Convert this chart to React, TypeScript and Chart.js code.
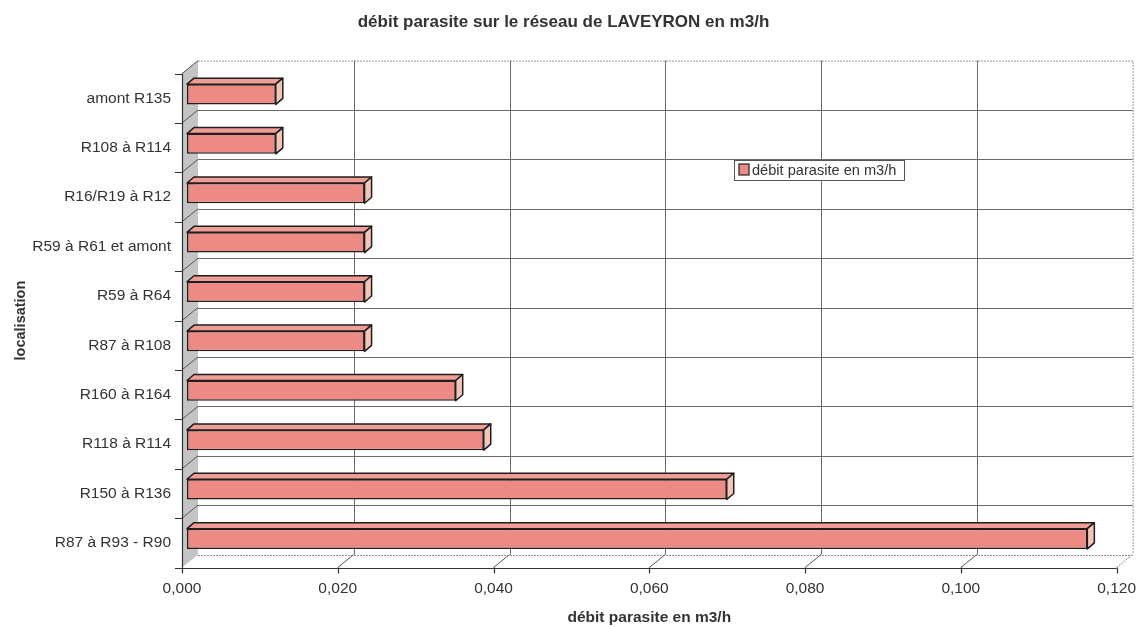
import React, { useEffect, useRef } from "react";
import { Chart, registerables } from "chart.js";

Chart.register(...registerables);

const chartTitle = "débit parasite sur le réseau de LAVEYRON en m3/h";
const seriesLabel = "débit parasite en m3/h";
const xAxisTitle = "débit parasite en m3/h";
const yAxisTitle = "localisation";

const categories = [
  "amont R135",
  "R108 à R114",
  "R16/R19 à R12",
  "R59 à R61 et amont",
  "R59 à R64",
  "R87 à R108",
  "R160 à R164",
  "R118 à R114",
  "R150 à R136",
  "R87 à R93 - R90",
];

const values = [0.0114, 0.0114, 0.0228, 0.0228, 0.0228, 0.0228, 0.0345, 0.0381, 0.0693, 0.1156];

const xMin = 0;
const xMax = 0.12;
const xStep = 0.02;

const FONT = "'Liberation Sans', Arial, sans-serif";
const TEXT = "#333333";

// depth geometry for the 3D look
const BACK_DX = 16;
const BACK_DY = -13;
const BAR_DX = 5;
const BAR_DY = -4;
const FACE_DX = 7;
const FACE_DY = -6;

const threeD = {
  id: "threeD",
  beforeDatasetsDraw(chart: any) {
    const { ctx, chartArea } = chart;
    const { left: L, right: R, top: T, bottom: B } = chartArea;
    const xs = chart.scales.x;
    const n = categories.length;
    const band = (B - T) / n;
    const bounds: number[] = [];
    for (let i = 0; i <= n; i++) bounds.push(T + i * band);
    const ticks: number[] = [];
    for (let v = xMin; v <= xMax + 1e-9; v += xStep) ticks.push(xs.getPixelForValue(v));

    ctx.save();
    // back wall
    ctx.fillStyle = "#ffffff";
    ctx.fillRect(L + BACK_DX, T + BACK_DY, R - L, B - T);
    ctx.strokeStyle = "#9a9a9a";
    ctx.lineWidth = 1;
    ctx.setLineDash([2, 1]);
    ctx.beginPath();
    ctx.moveTo(L + BACK_DX, T + BACK_DY + 0.5);
    ctx.lineTo(R + BACK_DX + 0.5, T + BACK_DY + 0.5);
    ctx.lineTo(R + BACK_DX + 0.5, B + BACK_DY);
    ctx.stroke();
    ctx.setLineDash([]);

    // back wall grid
    ctx.strokeStyle = "#6a6a6a";
    ctx.lineWidth = 1;
    ctx.beginPath();
    for (let i = 1; i < ticks.length - 1; i++) {
      const x = Math.round(ticks[i] + BACK_DX) + 0.5;
      ctx.moveTo(x, T + BACK_DY);
      ctx.lineTo(x, B + BACK_DY);
    }
    for (let i = 1; i < n; i++) {
      const y = Math.round(bounds[i] + BACK_DY) + 0.5;
      ctx.moveTo(L + BACK_DX, y);
      ctx.lineTo(R + BACK_DX, y);
    }
    ctx.stroke();

    // floor back edge (dotted)
    ctx.strokeStyle = "#8a8a8a";
    ctx.setLineDash([2, 1]);
    ctx.beginPath();
    ctx.moveTo(L + BACK_DX, Math.round(B + BACK_DY) + 0.5);
    ctx.lineTo(R + BACK_DX, Math.round(B + BACK_DY) + 0.5);
    ctx.moveTo(R, B);
    ctx.lineTo(R + BACK_DX, B + BACK_DY);
    ctx.stroke();
    ctx.setLineDash([]);

    // left side wall
    ctx.fillStyle = "#c4c4c4";
    ctx.beginPath();
    ctx.moveTo(L, T);
    ctx.lineTo(L + BACK_DX, T + BACK_DY);
    ctx.lineTo(L + BACK_DX, B + BACK_DY);
    ctx.lineTo(L, B);
    ctx.closePath();
    ctx.fill();

    ctx.strokeStyle = "#555555";
    ctx.lineWidth = 1;
    ctx.beginPath();
    for (let i = 0; i < n; i++) {
      ctx.moveTo(L, bounds[i]);
      ctx.lineTo(L + BACK_DX, bounds[i] + BACK_DY);
    }
    for (let i = 1; i < ticks.length - 1; i++) {
      ctx.moveTo(ticks[i], B);
      ctx.lineTo(ticks[i] + BACK_DX, B + BACK_DY);
    }
    ctx.stroke();

    // front axes
    ctx.strokeStyle = "#333333";
    ctx.lineWidth = 1.2;
    ctx.beginPath();
    ctx.moveTo(Math.round(L) + 0.5, T);
    ctx.lineTo(Math.round(L) + 0.5, B);
    ctx.moveTo(L, Math.round(B) + 0.5);
    ctx.lineTo(R, Math.round(B) + 0.5);
    for (let i = 0; i < ticks.length; i++) {
      const x = Math.round(ticks[i]) + 0.5;
      ctx.moveTo(x, B);
      ctx.lineTo(x, B + 6);
    }
    for (let i = 0; i <= n; i++) {
      const y = Math.round(bounds[i]) + 0.5;
      ctx.moveTo(L - 7, y);
      ctx.lineTo(L, y);
    }
    ctx.stroke();
    ctx.restore();

    // shift bars into the middle of the depth
    ctx.save();
    ctx.translate(BAR_DX, BAR_DY);
  },
  afterDatasetsDraw(chart: any) {
    const { ctx } = chart;
    const meta = chart.getDatasetMeta(0);
    meta.data.forEach((bar: any) => {
      const { x, y, base, height } = bar.getProps(["x", "y", "base", "height"], true);
      const top = y - height / 2;
      const bot = y + height / 2;
      ctx.lineWidth = 1.5;
      ctx.strokeStyle = "#1e1e1e";
      ctx.lineJoin = "round";
      ctx.fillStyle = "#f19d97";
      ctx.beginPath();
      ctx.moveTo(base, top);
      ctx.lineTo(base + FACE_DX, top + FACE_DY);
      ctx.lineTo(x + FACE_DX, top + FACE_DY);
      ctx.lineTo(x, top);
      ctx.closePath();
      ctx.fill();
      ctx.stroke();
      ctx.fillStyle = "#f3c4b8";
      ctx.beginPath();
      ctx.moveTo(x, top);
      ctx.lineTo(x + FACE_DX, top + FACE_DY);
      ctx.lineTo(x + FACE_DX, bot + FACE_DY);
      ctx.lineTo(x, bot);
      ctx.closePath();
      ctx.fill();
      ctx.stroke();
    });
    ctx.restore();
  },
  afterDraw(chart: any) {
    const { ctx } = chart;
    ctx.save();
    const bx = 734.5, by = 160.5, bw = 170, bh = 20;
    ctx.fillStyle = "#ffffff";
    ctx.fillRect(bx, by, bw, bh);
    ctx.strokeStyle = "#555555";
    ctx.lineWidth = 1;
    ctx.strokeRect(bx, by, bw, bh);
    ctx.fillStyle = "#ee8a84";
    ctx.fillRect(739, 164, 10, 11);
    ctx.strokeStyle = "#222222";
    ctx.lineWidth = 1.2;
    ctx.strokeRect(739, 164, 10, 11);
    ctx.fillStyle = TEXT;
    ctx.font = `14.6px ${FONT}`;
    ctx.textBaseline = "middle";
    ctx.textAlign = "left";
    ctx.fillText(seriesLabel, 752, 170.5);
    ctx.restore();
  },
};

export default function App() {
  const ref = useRef<HTMLCanvasElement | null>(null);

  useEffect(() => {
    document.body.style.margin = "0";
    document.body.style.background = "#ffffff";
    const canvas = ref.current;
    if (!canvas) return;
    const chart = new Chart(canvas, {
      type: "bar",
      data: {
        labels: categories,
        datasets: [
          {
            label: seriesLabel,
            data: values,
            backgroundColor: "#ee8a84",
            borderColor: "#1e1e1e",
            borderWidth: 1.5,
            borderSkipped: false,
            barPercentage: 0.41,
            categoryPercentage: 1,
            clip: false as any,
          },
        ],
      },
      options: {
        indexAxis: "y",
        animation: false,
        responsive: false,
        maintainAspectRatio: false,
        layout: { padding: { left: 0, right: 21, top: 0, bottom: 0 } },
        plugins: {
          legend: { display: false },
          tooltip: { enabled: false },
          title: {
            display: true,
            text: chartTitle,
            color: TEXT,
            font: { family: FONT, size: 17, weight: "bold" },
            lineHeight: 1.2,
            padding: { top: 12, bottom: 41.2 },
          },
        },
        scales: {
          x: {
            type: "linear",
            min: xMin,
            max: xMax,
            grid: { display: false, drawTicks: false },
            border: { display: false },
            ticks: {
              stepSize: xStep,
              padding: 12,
              color: TEXT,
              font: { family: FONT, size: 15.5 },
              callback: (v: any) => Number(v).toFixed(3).replace(".", ","),
            },
            title: {
              display: true,
              text: xAxisTitle,
              color: TEXT,
              font: { family: FONT, size: 15.5, weight: "bold" },
              padding: { top: 0, bottom: 0 },
            },
            afterFit: (s: any) => {
              s.height = 59.5;
            },
          },
          y: {
            grid: { display: false, drawTicks: false },
            border: { display: false },
            ticks: {
              padding: 11,
              color: TEXT,
              font: { family: FONT, size: 15.5 },
            },
            title: {
              display: true,
              text: yAxisTitle,
              color: TEXT,
              font: { family: FONT, size: 14.5, weight: "bold" },
              padding: { top: 12, bottom: 0 },
            },
            afterFit: (s: any) => {
              s.width = 182;
            },
          },
        },
      },
      plugins: [threeD],
    });
    return () => chart.destroy();
  }, []);

  return <canvas ref={ref} width={1148} height={627} style={{ display: "block" }} />;
}
